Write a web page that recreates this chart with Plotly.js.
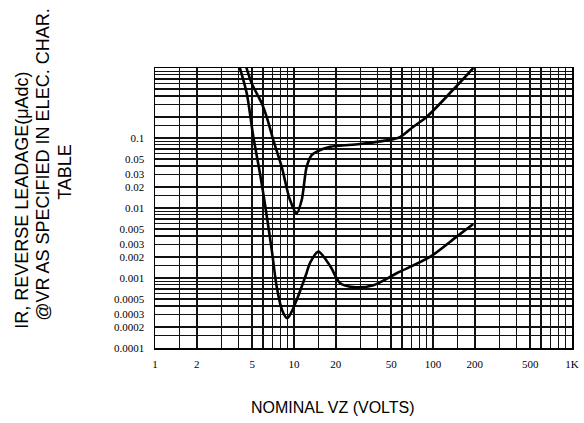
<!DOCTYPE html>
<html>
<head>
<meta charset="utf-8">
<script src="https://cdn.plot.ly/plotly-3.0.1.min.js"></script>
<style>
html,body{margin:0;padding:0;background:#fff;}
#chart{width:584px;height:423px;}
</style>
</head>
<body>
<div id="chart"></div>
<script>
// Upper curve
var upperX = [4.5, 4.96, 5.39, 5.86, 6.36, 7.10, 8.15, 9.36, 10.46, 11.36, 12.34, 13.4, 14.6, 18.2, 29.8, 49, 57.9, 72.2, 90, 139, 195];
var upperY = [1.08, 0.604, 0.435, 0.313, 0.201, 0.0936, 0.0389, 0.0130, 0.0084, 0.0130, 0.0389, 0.057, 0.064, 0.075, 0.082, 0.094, 0.103, 0.145, 0.20, 0.485, 1.0];
// Lower curve
var lowerX = [4.05, 4.57, 5.10, 5.69, 6.18, 6.92, 7.51, 8.2, 8.95, 9.62, 10.45, 12.3, 13.0, 14.96, 18.2, 21.4, 26.7, 37.2, 54.8, 95, 148, 195];
var lowerY = [1.05, 0.435, 0.104, 0.0313, 0.0114, 0.0025, 0.00075, 0.00035, 0.000266, 0.00033, 0.000485, 0.00117, 0.00162, 0.00238, 0.00148, 0.00085, 0.00074, 0.00079, 0.00117, 0.0020, 0.0039, 0.0059];

// Graph-paper grid
var mantissas = [1, 1.5, 2, 3, 4, 5, 6, 7, 8, 9];
var xDecades = [1, 10, 100];
var yDecades = [0.0001, 0.001, 0.01, 0.1];
var xLabelVals = [1, 2, 5, 10, 20, 50, 100, 200, 500, 1000];
var xLabelText = ['1', '2', '5', '10', '20', '50', '100', '200', '500', '1K'];
var yLabelVals = [0.1, 0.05, 0.03, 0.02, 0.01, 0.005, 0.003, 0.002, 0.001, 0.0005, 0.0003, 0.0002, 0.0001];
var yLabelText = ['0.1', '0.05', '0.03', '0.02', '0.01', '0.005', '0.003', '0.002', '0.001', '0.0005', '0.0003', '0.0002', '0.0001'];

function buildTicks(decades, top, labelVals, labelText) {
  var vals = [], text = [];
  decades.forEach(function (d) {
    mantissas.forEach(function (m) { vals.push(+(d * m).toPrecision(6)); });
  });
  vals.push(top);
  vals.forEach(function (v) {
    var idx = -1;
    for (var i = 0; i < labelVals.length; i++) {
      if (Math.abs(labelVals[i] - v) / v < 1e-6) idx = i;
    }
    text.push(idx >= 0 ? labelText[idx] : '');
  });
  return {vals: vals, text: text};
}
var xt = buildTicks(xDecades, 1000, xLabelVals, xLabelText);
var yt = buildTicks(yDecades, 1, yLabelVals, yLabelText);

var traces = [
  {x: upperX, y: upperY, mode: 'lines', line: {color: '#000', width: 2.6, shape: 'spline', smoothing: 0.8}, showlegend: false, hoverinfo: 'skip'},
  {x: lowerX, y: lowerY, mode: 'lines', line: {color: '#000', width: 2.6, shape: 'spline', smoothing: 0.8}, showlegend: false, hoverinfo: 'skip'}
];

var tickFont = {family: 'Liberation Serif, Times New Roman, serif', size: 11, color: '#000'};
var titleFont = {family: 'Liberation Sans, Arial, sans-serif', size: 18, color: '#000'};

var layout = {
  width: 584, height: 423,
  margin: {l: 155, r: 12, t: 68, b: 75},
  paper_bgcolor: '#fff', plot_bgcolor: '#fff',
  showlegend: false,
  xaxis: {
    type: 'log', range: [0, 3],
    tickmode: 'array', tickvals: xt.vals, ticktext: xt.text,
    ticks: '', ticklabelstandoff: 5,
    showgrid: true, gridcolor: '#111', gridwidth: 1.4,
    showline: true, mirror: true, linecolor: '#000', linewidth: 1.5,
    tickfont: tickFont, zeroline: false
  },
  yaxis: {
    type: 'log', range: [-4, 0],
    tickmode: 'array', tickvals: yt.vals, ticktext: yt.text,
    ticks: '', ticklabelstandoff: 7,
    showgrid: true, gridcolor: '#111', gridwidth: 1.4,
    showline: true, mirror: true, linecolor: '#000', linewidth: 1.5,
    tickfont: tickFont, zeroline: false
  },
  annotations: [
    {text: 'IR, REVERSE LEADAGE(μAdc)', xref: 'paper', yref: 'paper', x: -0.319, y: 0.529, xanchor: 'center', yanchor: 'middle', textangle: -90, showarrow: false, font: titleFont},
    {text: '@VR AS SPECIFIED IN ELEC. CHAR.', xref: 'paper', yref: 'paper', x: -0.269, y: 0.654, xanchor: 'center', yanchor: 'middle', textangle: -90, showarrow: false, font: titleFont},
    {text: 'TABLE', xref: 'paper', yref: 'paper', x: -0.216, y: 0.629, xanchor: 'center', yanchor: 'middle', textangle: -90, showarrow: false, font: titleFont},
    {text: 'NOMINAL VZ (VOLTS)', xref: 'paper', yref: 'paper', x: 0.427, y: -0.214, xanchor: 'center', yanchor: 'middle', showarrow: false, font: {family: 'Liberation Sans, Arial, sans-serif', size: 16, color: '#000'}}
  ]
};

Plotly.newPlot('chart', traces, layout, {displayModeBar: false, staticPlot: true});
</script>
</body>
</html>
